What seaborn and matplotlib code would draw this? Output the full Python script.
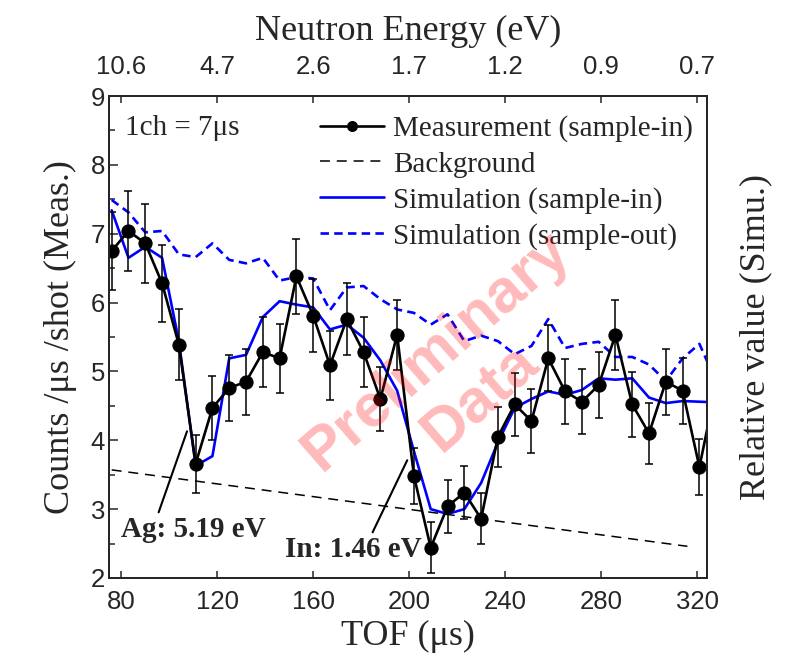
import numpy as np
import pandas as pd
import matplotlib
matplotlib.use("Agg")
import matplotlib.pyplot as plt
from matplotlib.ticker import MultipleLocator
import seaborn as sns

# ---------------- data ----------------
tof = [76, 83, 90, 97, 104, 111, 118, 125, 132, 139, 146, 153, 160, 167, 174, 181,
       188, 195, 202, 209, 216, 223, 230, 237, 244, 251, 258, 265, 272, 279, 286,
       293, 300, 307, 314, 321, 328]
meas = [6.75, 7.04, 6.86, 6.28, 5.39, 3.66, 4.47, 4.76, 4.85, 5.28, 5.19, 6.38,
        5.81, 5.09, 5.76, 5.28, 4.60, 5.53, 3.48, 2.44, 3.04, 3.24, 2.86, 4.05,
        4.52, 4.28, 5.19, 4.71, 4.56, 4.80, 5.53, 4.52, 4.10, 4.85, 4.72, 3.61, 4.80]
meas_err = [0.57, 0.58, 0.57, 0.56, 0.51, 0.42, 0.46, 0.48, 0.48, 0.51, 0.50, 0.54,
            0.53, 0.50, 0.52, 0.51, 0.47, 0.51, 0.41, 0.37, 0.38, 0.39, 0.37, 0.44,
            0.46, 0.46, 0.48, 0.47, 0.47, 0.48, 0.51, 0.47, 0.44, 0.48, 0.48, 0.41, 0.48]
sim_in = [7.34, 6.65, 6.81, 6.65, 5.44, 3.63, 3.77, 5.19, 5.24, 5.79, 6.02, 5.97,
          5.93, 5.61, 5.68, 5.49, 5.16, 4.72, 3.84, 3.00, 2.93, 3.00, 3.38, 3.97,
          4.47, 4.60, 4.71, 4.66, 4.73, 4.90, 4.88, 4.90, 4.62, 4.54, 4.57, 4.56, 4.55]
sim_out = [7.49, 7.31, 7.02, 7.04, 6.70, 6.66, 6.86, 6.62, 6.57, 6.65, 6.32, 6.37,
           6.35, 5.89, 6.22, 6.24, 6.05, 5.90, 5.85, 5.68, 5.83, 5.44, 5.52, 5.44,
           5.25, 5.37, 5.76, 5.34, 5.40, 5.43, 5.21, 5.21, 5.10, 4.86, 5.19, 5.40, 4.85]
bg_tof = [76, 316]
bg_val = [3.57, 2.46]

tof_ticks = [80, 120, 160, 200, 240, 280, 320]
energy_labels = ["10.6", "4.7", "2.6", "1.7", "1.2", "0.9", "0.7"]

# ---------------- style ----------------
sns.set_theme(style="ticks")
plt.rcParams["font.family"] = ["Liberation Serif", "DejaVu Serif"]
plt.rcParams["axes.linewidth"] = 1.3

fig, ax = plt.subplots(figsize=(7.96, 6.58), dpi=100)
fig.subplots_adjust(left=0.1373, right=0.8886, bottom=0.1216, top=0.8541)

df = pd.DataFrame({"tof": tof, "meas": meas, "sim_in": sim_in, "sim_out": sim_out})
dfb = pd.DataFrame({"tof": bg_tof, "bg": bg_val})

blue = "#0000ff"
sns.lineplot(data=df, x="tof", y="sim_out", ax=ax, color=blue, lw=1.9,
             ls=(0, (3.2, 2.0)), sort=False, estimator=None,
             label="Simulation (sample-out)")
sns.lineplot(data=df, x="tof", y="sim_in", ax=ax, color=blue, lw=1.9,
             sort=False, estimator=None, label="Simulation (sample-in)")
sns.lineplot(data=dfb, x="tof", y="bg", ax=ax, color="black", lw=1.1,
             ls=(0, (6.5, 4.5)), sort=False, estimator=None, label="Background")
ax.errorbar(df["tof"], df["meas"], yerr=meas_err, fmt="none", ecolor="black",
            elinewidth=1.1, capsize=3.2, capthick=1.1, zorder=3)
sns.lineplot(data=df, x="tof", y="meas", ax=ax, color="black", lw=1.9,
             marker="o", markersize=9.5, markeredgecolor="black",
             sort=False, estimator=None, label="Measurement (sample-in)", zorder=4)

ax.set_xlim(75, 324.3)
ax.set_ylim(2, 9)
ax.set_xticks(tof_ticks)
ax.yaxis.set_major_locator(MultipleLocator(1))
ax.yaxis.set_minor_locator(MultipleLocator(0.5))
ax.tick_params(axis="both", which="both", direction="in", labelsize=18.5,
               labelfontfamily="Liberation Sans")
ax.tick_params(axis="x", which="major", length=5, width=1.1, pad=9, top=False)
ax.tick_params(axis="y", which="major", length=6.5, width=1.1, pad=3, right=True)
ax.tick_params(axis="y", which="minor", length=4, width=1.1, right=True)
ax.set_xlabel("TOF (μs)", fontsize=26, labelpad=4)
ax.set_ylabel("Counts /μs /shot (Meas.)", fontsize=26, labelpad=10)

# top axis: neutron energy
axt = ax.twiny()
axt.set_xlim(ax.get_xlim())
axt.set_xticks(tof_ticks)
axt.set_xticklabels(energy_labels)
axt.tick_params(axis="x", direction="in", length=5, width=1.1, pad=12,
                labelsize=18.5, labelfontfamily="Liberation Sans")
axt.set_xlabel("Neutron Energy (eV)", fontsize=26, labelpad=11)

# right label
axr = ax.twinx()
axr.set_ylim(ax.get_ylim())
axr.set_yticks([])
axr.set_ylabel("Relative value (Simu.)", fontsize=26, labelpad=23)

# legend
h, l = ax.get_legend_handles_labels()
order = ["Measurement (sample-in)", "Background", "Simulation (sample-in)",
         "Simulation (sample-out)"]
hd = dict(zip(l, h))
ax.legend([hd[k] for k in order], order, loc="upper left",
          bbox_to_anchor=(0.352, 0.960), frameon=False, fontsize=21,
          handlelength=2.2, handletextpad=0.3, labelspacing=0.31, borderpad=0,
          borderaxespad=0, markerscale=0.75)

ax.text(0.026, 0.934, "1ch = 7μs", transform=ax.transAxes, fontsize=21,
        va="center", ha="left")

ax.annotate("Ag: 5.19 eV", xy=(107.4, 4.13), xytext=(80.0, 2.71),
            fontsize=21, fontweight="bold", va="center", ha="left",
            arrowprops=dict(arrowstyle="-", color="black", lw=1.5,
                            shrinkA=0, shrinkB=0, relpos=(0.25, 1.0)))
ax.annotate("In: 1.46 eV", xy=(199.2, 3.71), xytext=(148.2, 2.42),
            fontsize=21, fontweight="bold", va="center", ha="left",
            arrowprops=dict(arrowstyle="-", color="black", lw=1.5,
                            shrinkA=0, shrinkB=0, relpos=(0.63, 1.0)))

# watermark
ax.text(0.548, 0.471, "Preliminary", transform=ax.transAxes, fontsize=44,
        fontweight="bold", family="Liberation Sans", color="red", alpha=0.27,
        rotation=41, ha="center", va="center", zorder=10)
ax.text(0.620, 0.374, "Data", transform=ax.transAxes, fontsize=44,
        fontweight="bold", family="Liberation Sans", color="red", alpha=0.27,
        rotation=41, ha="center", va="center", zorder=10)

fig.savefig("out.png", dpi=100)
